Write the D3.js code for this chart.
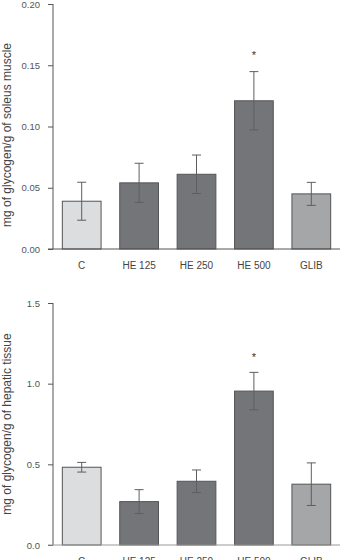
<!DOCTYPE html>
<html>
<head>
<meta charset="utf-8">
<script src="https://cdn.jsdelivr.net/npm/d3@7"></script>
<style>
  body { margin: 0; background: #fff; }
  svg { display: block; font-family: "Liberation Sans", Arial, sans-serif; }
</style>
</head>
<body>
<svg id="chart" width="343" height="560"></svg>
<script>
// groupes et valeurs
const groups = ["C", "HE 125", "HE 250", "HE 500", "GLIB"];
const muscleMean = [0.039, 0.054, 0.061, 0.121, 0.045];
const muscleErr = [0.0155, 0.016, 0.0157, 0.0238, 0.0094];
const hepaticMean = [0.482, 0.269, 0.395, 0.954, 0.377];
const hepaticErr = [0.030, 0.074, 0.070, 0.116, 0.132];
const muscleTicks = [0.00, 0.05, 0.10, 0.15, 0.20];
const hepaticTicks = [0.0, 0.5, 1.0, 1.5];
const significant = [false, false, false, true, false];

const fills = ["#dcddde", "#747578", "#747578", "#747578", "#a5a6a8"];

const svg = d3.select("#chart");

function drawPanel(opts) {
    const x = d3.scaleBand()
        .domain(groups)
        .range([53, 340])
        .paddingInner(0.325)
        .paddingOuter(0.1625);

    const y = d3.scaleLinear()
        .domain([0, opts.max])
        .range([opts.bottom, opts.top]);

    const g = svg.append("g");
    const cx = i => x(groups[i]) + x.bandwidth() / 2;

    // barres
    g.selectAll(".bar")
        .data(opts.mean)
        .enter().append("rect")
        .attr("class", "bar")
        .attr("x", (d, i) => x(groups[i]))
        .attr("y", d => y(d))
        .attr("width", x.bandwidth())
        .attr("height", d => y(0) - y(d))
        .attr("fill", (d, i) => fills[i])
        .attr("stroke", "#555")
        .attr("stroke-width", 1);

    // barres d'erreur
    const err = g.selectAll(".err")
        .data(opts.mean)
        .enter().append("g")
        .attr("class", "err")
        .attr("stroke", "#5e5e5e")
        .attr("stroke-width", 1);
    err.append("line")
        .attr("x1", (d, i) => cx(i)).attr("x2", (d, i) => cx(i))
        .attr("y1", (d, i) => y(d + opts.err[i]))
        .attr("y2", (d, i) => y(d - opts.err[i]));
    err.append("line")
        .attr("x1", (d, i) => cx(i) - 4.5).attr("x2", (d, i) => cx(i) + 4.5)
        .attr("y1", (d, i) => y(d + opts.err[i]))
        .attr("y2", (d, i) => y(d + opts.err[i]));
    err.append("line")
        .attr("x1", (d, i) => cx(i) - 4.5).attr("x2", (d, i) => cx(i) + 4.5)
        .attr("y1", (d, i) => y(d - opts.err[i]))
        .attr("y2", (d, i) => y(d - opts.err[i]));

    // astérisques
    const starIdx = groups.map((d, i) => i).filter(i => significant[i]);
    g.selectAll(".star")
        .data(starIdx)
        .enter().append("text")
        .attr("class", "star")
        .attr("x", i => cx(i))
        .attr("y", i => y(opts.mean[i] + opts.err[i]) - opts.starGap)
        .attr("text-anchor", "middle")
        .attr("font-size", 11)
        .attr("fill", "#333")
        .text("*");

    // axe y
    const yAxis = g.append("g")
        .attr("transform", "translate(53,0)")
        .call(d3.axisLeft(y).tickValues(opts.ticks).tickFormat(d3.format(opts.fmt))
            .tickSize(5).tickPadding(8));
    yAxis.select(".domain").attr("stroke", "#555").attr("d", `M0,${opts.top}V${opts.bottom}`);
    yAxis.selectAll(".tick line").attr("stroke", "#555");
    yAxis.selectAll("text").attr("font-size", 9.5).attr("fill", "#555")
        .attr("font-family", "Liberation Sans, Arial, sans-serif");

    // axe x
    const xAxis = g.append("g")
        .attr("transform", `translate(0,${opts.bottom})`)
        .call(d3.axisBottom(x).tickSize(0).tickPadding(13));
    xAxis.select(".domain").attr("stroke", opts.xColor).attr("d", "M48,0H340");
    xAxis.selectAll("text").attr("font-size", 10).attr("fill", "#444")
        .attr("font-family", "Liberation Sans, Arial, sans-serif");

    // titre de l'axe y
    g.append("text")
        .attr("transform", `translate(11,${opts.labelY}) rotate(-90)`)
        .attr("text-anchor", "middle")
        .attr("font-size", 12)
        .attr("fill", "#444")
        .text(opts.label);
}

drawPanel({
    mean: muscleMean, err: muscleErr, ticks: muscleTicks, max: 0.20,
    top: 4, bottom: 249, fmt: ".2f", starGap: 13, xColor: "#555",
    label: "mg of glycogen/g of soleus muscle", labelY: 135
});

drawPanel({
    mean: hepaticMean, err: hepaticErr, ticks: hepaticTicks, max: 1.5,
    top: 303, bottom: 545, fmt: ".1f", starGap: 11, xColor: "#999",
    label: "mg of glycogen/g of hepatic tissue", labelY: 424
});
</script>
</body>
</html>
